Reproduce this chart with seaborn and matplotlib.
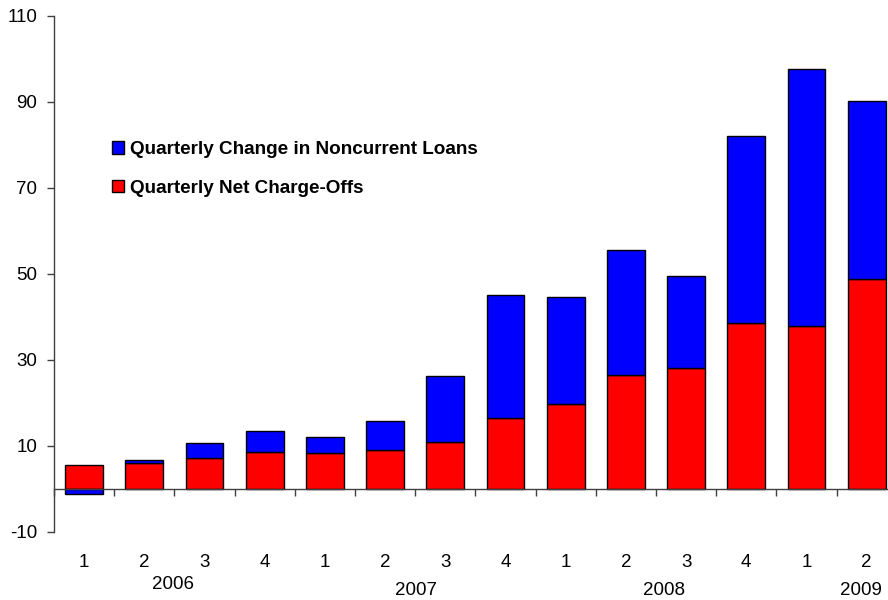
import numpy as np
import pandas as pd
import seaborn as sns
import matplotlib
matplotlib.use("Agg")
import matplotlib.pyplot as plt

# Quarterly figures, $ billions
quarters = ["1", "2", "3", "4", "1", "2", "3", "4", "1", "2", "3", "4", "1", "2"]
years = ["2006", "2007", "2008", "2009"]
year_label_x = [1.48, 5.51, 9.63, 12.9]
year_label_y = [-22.3, -23.6, -23.6, -23.6]
net_charge_offs = [5.6, 6.1, 7.2, 8.6, 8.3, 9.0, 10.9, 16.4, 19.7, 26.4, 28.2, 38.6, 37.8, 48.9]
noncurrent_change = [-1.1, 0.7, 3.6, 4.9, 3.9, 6.7, 15.4, 28.8, 24.9, 29.2, 21.3, 43.5, 59.9, 41.3]

sns.set_theme(style="white")
plt.rcParams["font.family"] = ["Liberation Sans", "DejaVu Sans"]
plt.rcParams["axes.unicode_minus"] = False
plt.rcParams["text.color"] = "black"

red = np.array(net_charge_offs)
blue = np.array(noncurrent_change)
df = pd.DataFrame({"q": np.arange(len(quarters)), "red": red, "blue": blue})
# positive changes sit on top of charge-offs, negative ones hang below zero
blue_bottom = np.where(blue >= 0, red, 0.0)

fig = plt.figure(figsize=(8.88, 6.0), dpi=100)
ax = fig.add_axes([54 / 888, 1 - 532 / 600, 14 * 60.2 / 888, (532 - 16) / 600])

sns.barplot(data=df, x="q", y="red", color="#FF0000", width=0.63, saturation=1,
            edgecolor="black", linewidth=1.0, label="Quarterly Net Charge-Offs", ax=ax)
sns.barplot(data=df, x="q", y="blue", color="#0000FF", width=0.63, saturation=1,
            edgecolor="black", linewidth=1.0, bottom=blue_bottom,
            label="Quarterly Change in Noncurrent Loans", ax=ax)

ax.set_xlim(-0.5, 13.5)
ax.set_ylim(-10, 110)
ax.set_yticks([-10, 10, 30, 50, 70, 90, 110])
ax.set_xlabel("")
ax.set_ylabel("")

axis_color = "#404040"
for s in ["top", "right"]:
    ax.spines[s].set_visible(False)
ax.spines["left"].set_color(axis_color)
ax.spines["left"].set_linewidth(1.0)
ax.spines["bottom"].set_position(("data", 0))
ax.spines["bottom"].set_color(axis_color)
ax.spines["bottom"].set_linewidth(1.0)

fs = 13.5
ax.set_xticks(np.arange(len(quarters)))
ax.set_xticklabels(quarters)
ax.set_xticks(np.arange(len(quarters) + 1) - 0.5, minor=True)
ax.tick_params(axis="x", which="major", length=0, pad=47, labelsize=fs, labelcolor="black")
ax.tick_params(axis="x", which="minor", direction="out", length=5, width=1, color=axis_color, bottom=True)
ax.tick_params(axis="y", which="major", direction="out", length=5, width=1, color=axis_color,
               left=True, pad=7, labelsize=fs, labelcolor="black")

for yr, xp, yp in zip(years, year_label_x, year_label_y):
    ax.text(xp, yp, yr, ha="center", va="center", fontsize=fs, color="black", clip_on=False)

handles, labels = ax.get_legend_handles_labels()
order = [labels.index("Quarterly Change in Noncurrent Loans"), labels.index("Quarterly Net Charge-Offs")]
leg = ax.legend([handles[i] for i in order], [labels[i] for i in order],
                loc="upper left", bbox_to_anchor=(112 / 888, 1 - 141 / 600),
                bbox_transform=fig.transFigure, frameon=False, borderpad=0, borderaxespad=0,
                handlelength=0.66, handleheight=0.66, handletextpad=0.27, labelspacing=1.15,
                prop={"weight": "bold", "size": 13.6})
for t in leg.get_texts():
    t.set_color("black")

fig.savefig("out.png", dpi=100)
